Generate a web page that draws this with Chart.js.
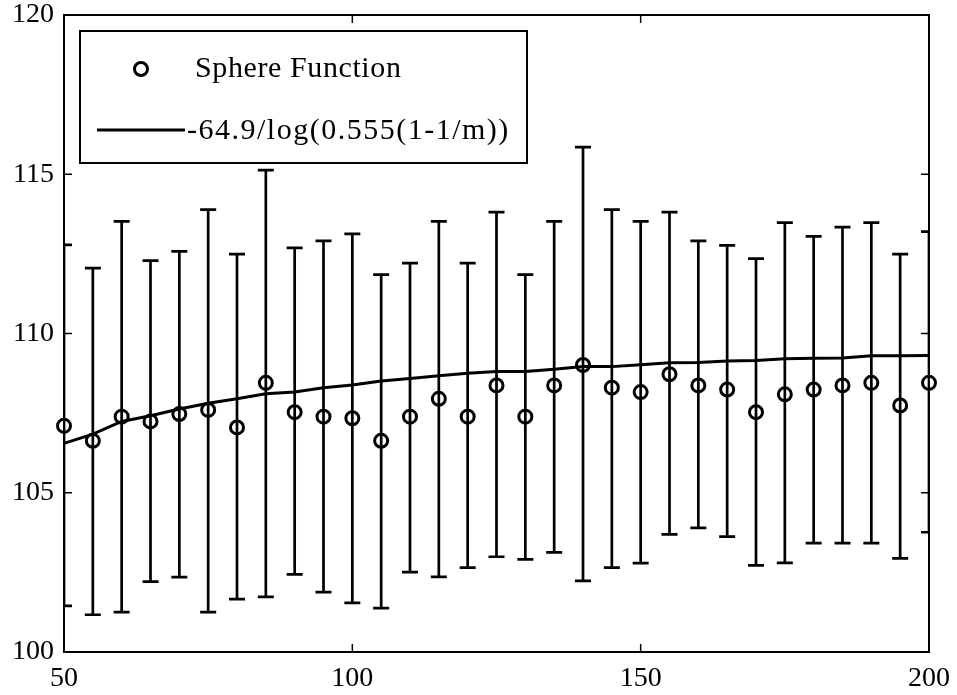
<!DOCTYPE html>
<html>
<head>
<meta charset="utf-8">
<script src="https://cdn.jsdelivr.net/npm/chart.js@4.4.1/dist/chart.umd.min.js"></script>
<style>
    html, body { margin: 0; padding: 0; background: #fff; }
</style>
</head>
<body>
<canvas id="chart" width="957" height="695"></canvas>
<script>
// x positions (m)
const mValues = [50, 55, 60, 65, 70, 75, 80, 85, 90, 95, 100, 105, 110, 115, 120, 125, 130, 135, 140, 145, 150, 155, 160, 165, 170, 175, 180, 185, 190, 195, 200];

// Sphere Function: mean and error bar ends
const sphereMean = [107.10, 106.63, 107.39, 107.24, 107.47, 107.60, 107.05, 108.45, 107.53, 107.39, 107.34, 106.63, 107.39, 107.95, 107.39, 108.37, 107.39, 108.37, 109.01, 108.30, 108.16, 108.72, 108.37, 108.24, 107.53, 108.09, 108.24, 108.37, 108.45, 107.74, 108.45];
const sphereUpper = [112.78, 112.05, 113.52, 112.29, 112.58, 113.89, 112.49, 115.13, 112.69, 112.91, 113.13, 111.85, 112.21, 113.52, 112.21, 113.81, 111.85, 113.52, 115.85, 113.89, 113.52, 113.81, 112.91, 112.77, 112.35, 113.48, 113.05, 113.34, 113.48, 112.49, 113.20];
const sphereLower = [101.45, 101.17, 101.25, 102.21, 102.35, 101.25, 101.66, 101.73, 102.44, 101.88, 101.54, 101.38, 102.51, 102.36, 102.65, 102.99, 102.91, 103.13, 102.23, 102.65, 102.79, 103.69, 103.90, 103.62, 102.72, 102.80, 103.42, 103.42, 103.42, 102.94, 103.76];

// fitted curve
const fitValues = [106.55, 106.84, 107.24, 107.42, 107.63, 107.81, 107.95, 108.11, 108.16, 108.30, 108.38, 108.51, 108.59, 108.67, 108.75, 108.81, 108.81, 108.88, 108.96, 108.96, 109.02, 109.08, 109.09, 109.14, 109.15, 109.21, 109.22, 109.23, 109.30, 109.30, 109.31];

const xTicks = [50, 100, 150, 200];
const yTicks = [100, 105, 110, 115, 120];

const seriesLabels = ['Sphere Function', '-64.9/log(0.555(1-1/m))'];

const serif = '"Liberation Serif", "DejaVu Serif", serif';

// error bars, drawn through the chart scales and clipped to the plot box
const errorBarPlugin = {
    id: 'errorBars',
    beforeDatasetsDraw(chart) {
        const { ctx, chartArea, scales } = chart;
        const x = scales.x, y = scales.y;
        ctx.save();
        ctx.beginPath();
        ctx.rect(chartArea.left, chartArea.top, chartArea.right - chartArea.left, chartArea.bottom - chartArea.top);
        ctx.clip();
        ctx.strokeStyle = '#000';
        ctx.lineWidth = 2.7;
        const cap = 8;
        mValues.forEach((m, i) => {
            const px = x.getPixelForValue(m);
            const top = y.getPixelForValue(sphereUpper[i]);
            const bot = y.getPixelForValue(sphereLower[i]);
            ctx.beginPath();
            ctx.moveTo(px, top);
            ctx.lineTo(px, bot);
            ctx.moveTo(px - cap, top);
            ctx.lineTo(px + cap, top);
            ctx.moveTo(px - cap, bot);
            ctx.lineTo(px + cap, bot);
            ctx.stroke();
        });
        ctx.restore();
    }
};

// box around the plot with inward tick marks on all sides
const framePlugin = {
    id: 'frame',
    beforeDatasetsDraw(chart) {
        const { ctx, chartArea, scales } = chart;
        const { left, right, top, bottom } = chartArea;
        const tl = 8;
        ctx.save();
        ctx.strokeStyle = '#000';
        ctx.lineWidth = 2;
        ctx.strokeRect(left, top, right - left, bottom - top);
        ctx.lineWidth = 1.5;
        ctx.beginPath();
        xTicks.forEach(v => {
            const px = scales.x.getPixelForValue(v);
            ctx.moveTo(px, bottom); ctx.lineTo(px, bottom - tl);
            ctx.moveTo(px, top); ctx.lineTo(px, top + tl);
        });
        yTicks.forEach(v => {
            const py = scales.y.getPixelForValue(v);
            ctx.moveTo(left, py); ctx.lineTo(left + tl, py);
            ctx.moveTo(right, py); ctx.lineTo(right - tl, py);
        });
        ctx.stroke();
        ctx.restore();
    }
};

// boxed legend in the top-left corner of the plot
const boxLegendPlugin = {
    id: 'boxLegend',
    afterDraw(chart) {
        const ctx = chart.ctx;
        const ds = chart.data.datasets;
        ctx.save();
        ctx.fillStyle = '#fff';
        ctx.fillRect(80, 31, 447, 132);
        ctx.strokeStyle = '#000';
        ctx.lineWidth = 2;
        ctx.strokeRect(80, 31, 447, 132);

        // marker row
        ctx.lineWidth = 3;
        ctx.beginPath();
        ctx.arc(141, 69, 6.5, 0, Math.PI * 2);
        ctx.stroke();

        // line row
        ctx.lineWidth = 3;
        ctx.beginPath();
        ctx.moveTo(97, 130);
        ctx.lineTo(185, 130);
        ctx.stroke();

        ctx.fillStyle = '#000';
        ctx.font = '30px ' + serif;
        ctx.textBaseline = 'alphabetic';
        ctx.textAlign = 'left';
        ctx.letterSpacing = '0.6px';
        ctx.fillText(ds[0].label, 195, 77);
        ctx.letterSpacing = '1.5px';
        ctx.fillText(ds[1].label, 187, 139);
        ctx.restore();
    }
};

const ctx = document.getElementById('chart').getContext('2d');
new Chart(ctx, {
    type: 'scatter',
    data: {
        datasets: [
            {
                label: seriesLabels[0],
                data: mValues.map((m, i) => ({ x: m, y: sphereMean[i] })),
                showLine: false,
                pointStyle: 'circle',
                pointRadius: 6.5,
                pointBorderWidth: 3,
                pointBorderColor: '#000',
                pointBackgroundColor: 'rgba(0,0,0,0)',
                clip: false
            },
            {
                label: seriesLabels[1],
                type: 'line',
                data: mValues.map((m, i) => ({ x: m, y: fitValues[i] })),
                borderColor: '#000',
                borderWidth: 3,
                pointRadius: 0,
                tension: 0,
                fill: false,
                clip: false
            }
        ]
    },
    options: {
        responsive: false,
        animation: false,
        layout: { padding: { top: 15, right: 28, left: 0, bottom: 0 } },
        plugins: {
            legend: { display: false },
            tooltip: { enabled: false }
        },
        scales: {
            x: {
                type: 'linear',
                min: 50,
                max: 200,
                afterBuildTicks: (scale) => { scale.ticks = xTicks.map(v => ({ value: v })); },
                afterFit: (scale) => {
                    scale.height = 43;
                    scale.paddingLeft = 0;
                    scale.paddingRight = 0;
                },
                grid: { display: false, drawTicks: false },
                border: { display: false },
                ticks: {
                    color: '#000',
                    padding: 10,
                    font: { family: serif, size: 28 }
                }
            },
            y: {
                type: 'linear',
                min: 100,
                max: 120,
                afterBuildTicks: (scale) => { scale.ticks = yTicks.map(v => ({ value: v })); },
                afterFit: (scale) => {
                    scale.width = 64;
                    scale.paddingTop = 0;
                    scale.paddingBottom = 0;
                },
                grid: { display: false, drawTicks: false },
                border: { display: false },
                ticks: {
                    color: '#000',
                    padding: 10,
                    font: { family: serif, size: 28 }
                }
            }
        }
    },
    plugins: [errorBarPlugin, framePlugin, boxLegendPlugin]
});
</script>
</body>
</html>
